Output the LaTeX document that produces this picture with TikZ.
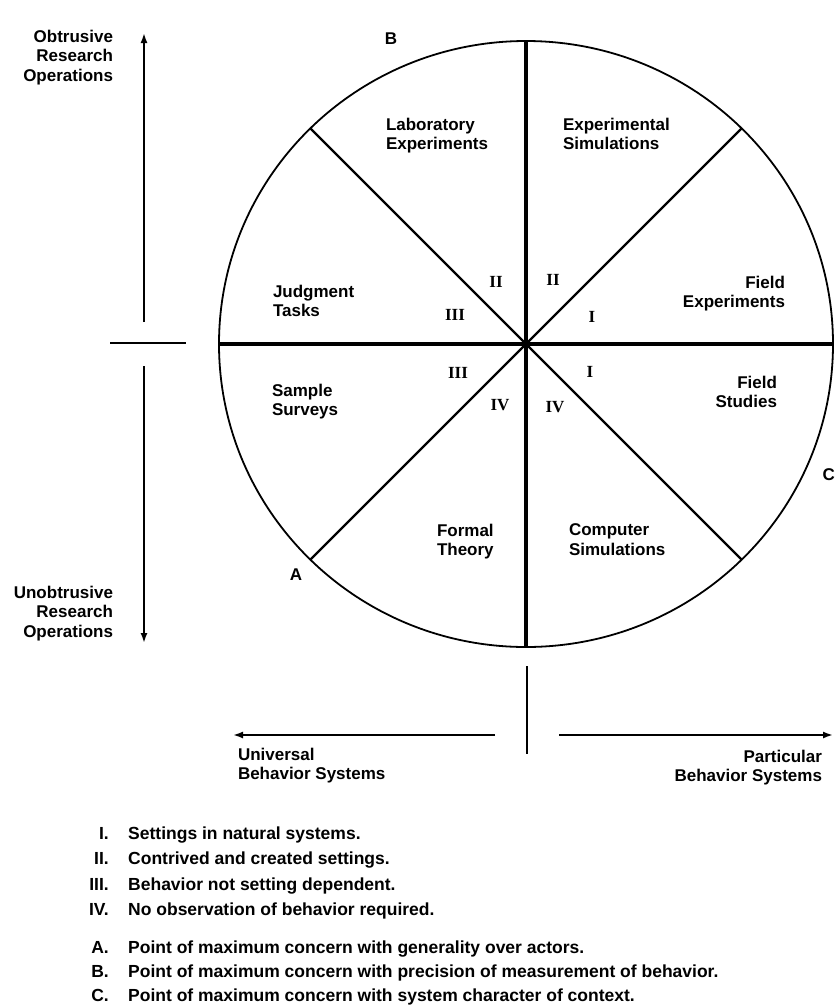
\documentclass[tikz,border=0pt]{standalone}
\usepackage{fontspec}
\setmainfont{Liberation Sans}
\newfontfamily\romfont{Liberation Serif}
\usetikzlibrary{shapes.geometric,arrows.meta}
\tikzset{
  lbl/.style={font=\bfseries\fontsize{17}{19.5}\selectfont, inner sep=0pt, outer sep=0pt},
  rom/.style={font=\romfont\bfseries\fontsize{17}{20}\selectfont, inner sep=0pt},
  leg/.style={font=\bfseries\fontsize{17.5}{20}\selectfont, inner sep=0pt},
  spoke/.style={line width=2.2pt},
  cross/.style={line width=3.2pt},
  axis/.style={line width=1.8pt},
  arr/.style={axis, -{Latex[length=10pt,width=7pt]}},
}
\begin{document}
\begin{tikzpicture}[x=1pt, y=-1pt]
\fill[white] (0,0) rectangle (835,1005);
\useasboundingbox (0,0) rectangle (835,1005);

% circle and spokes
\node[ellipse, draw, line width=1.8pt, inner sep=0pt, outer sep=0pt,
      minimum width=614pt, minimum height=606pt] (ring) at (526,344) {};
\draw[spoke] (ring.45) -- (ring.225);
\draw[spoke] (ring.135) -- (ring.315);
\draw[cross] (ring.north) -- (ring.south);
\draw[cross] (ring.west) -- (ring.east);
\fill (ring.center) circle (4.5);

% vertical axis
\coordinate (vtop) at (144,33);
\coordinate (vup) at (144,322);
\coordinate (vlow) at (144,366);
\coordinate (vbot) at (144,643);
\coordinate (htl) at (110,343);
\coordinate (htr) at (186,343);
\draw[arr] (vup) -- (vtop);
\draw[arr] (vlow) -- (vbot);
\draw[axis] (htl) -- (htr);

% horizontal axis
\coordinate (hl) at (233,735);
\coordinate (hlin) at (495,735);
\coordinate (hrin) at (559,735);
\coordinate (hr) at (833,735);
\coordinate (tkt) at (527,666);
\coordinate (tkb) at (527,754);
\draw[arr] (hlin) -- (hl);
\draw[arr] (hrin) -- (hr);
\draw[axis] (tkt) -- (tkb);

% axis labels
\node[lbl, anchor=north east, align=right] (obt) at (113,30) {Obtrusive\\Research\\Operations};
\node[lbl, anchor=north east, align=right] (unobt) at (113,586) {Unobtrusive\\Research\\Operations};
\node[lbl, anchor=north west, align=left] (univ) at (238,748) {Universal\\Behavior Systems};
\node[lbl, anchor=north east, align=right] (part) at (822,750) {Particular\\Behavior Systems};

% sector labels
\node[lbl, anchor=north west, align=left] (lab) at (386,118) {Laboratory\\Experiments};
\node[lbl, anchor=north west, align=left] (expsim) at (563,118) {Experimental\\Simulations};
\node[lbl, anchor=north west, align=left] (judg) at (273,285) {Judgment\\Tasks};
\node[lbl, anchor=north east, align=right] (fexp) at (785,276) {Field\\Experiments};
\node[lbl, anchor=north west, align=left] (surv) at (272,384) {Sample\\Surveys};
\node[lbl, anchor=north east, align=right] (fstud) at (777,376) {Field\\Studies};
\node[lbl, anchor=north west, align=left] (formal) at (437,524) {Formal\\Theory};
\node[lbl, anchor=north west, align=left] (comp) at (569,524) {Computer\\Simulations};

% points
\node[lbl] (ptB) at (391,39) {B};
\node[lbl] (ptA) at (296,575) {A};
\node[lbl, anchor=east] (ptC) at (835,475) {C};

% roman numerals
\node[rom] (r1) at (496,282) {II};
\node[rom] (r2) at (553,280) {II};
\node[rom] (r3) at (592,317) {I};
\node[rom] (r4) at (455,315) {III};
\node[rom] (r5) at (458,373) {III};
\node[rom] (r6) at (590,372) {I};
\node[rom] (r7) at (500,405) {IV};
\node[rom] (r8) at (555,407) {IV};

% legend
\node[leg, anchor=base east] (n1) at (109,839) {I.};
\node[leg, anchor=base west] (t1) at (128,839) {Settings in natural systems.};
\node[leg, anchor=base east] (n2) at (109,864) {II.};
\node[leg, anchor=base west] (t2) at (128,864) {Contrived and created settings.};
\node[leg, anchor=base east] (n3) at (109,890) {III.};
\node[leg, anchor=base west] (t3) at (128,890) {Behavior not setting dependent.};
\node[leg, anchor=base east] (n4) at (109,915) {IV.};
\node[leg, anchor=base west] (t4) at (128,915) {No observation of behavior required.};
\node[leg, anchor=base east] (nA) at (109,953) {A.};
\node[leg, anchor=base west] (tA) at (128,953) {Point of maximum concern with generality over actors.};
\node[leg, anchor=base east] (nB) at (109,977) {B.};
\node[leg, anchor=base west] (tB) at (128,977) {Point of maximum concern with precision of measurement of behavior.};
\node[leg, anchor=base east] (nC) at (109,1001) {C.};
\node[leg, anchor=base west] (tC) at (128,1001) {Point of maximum concern with system character of context.};
\end{tikzpicture}
\end{document}
